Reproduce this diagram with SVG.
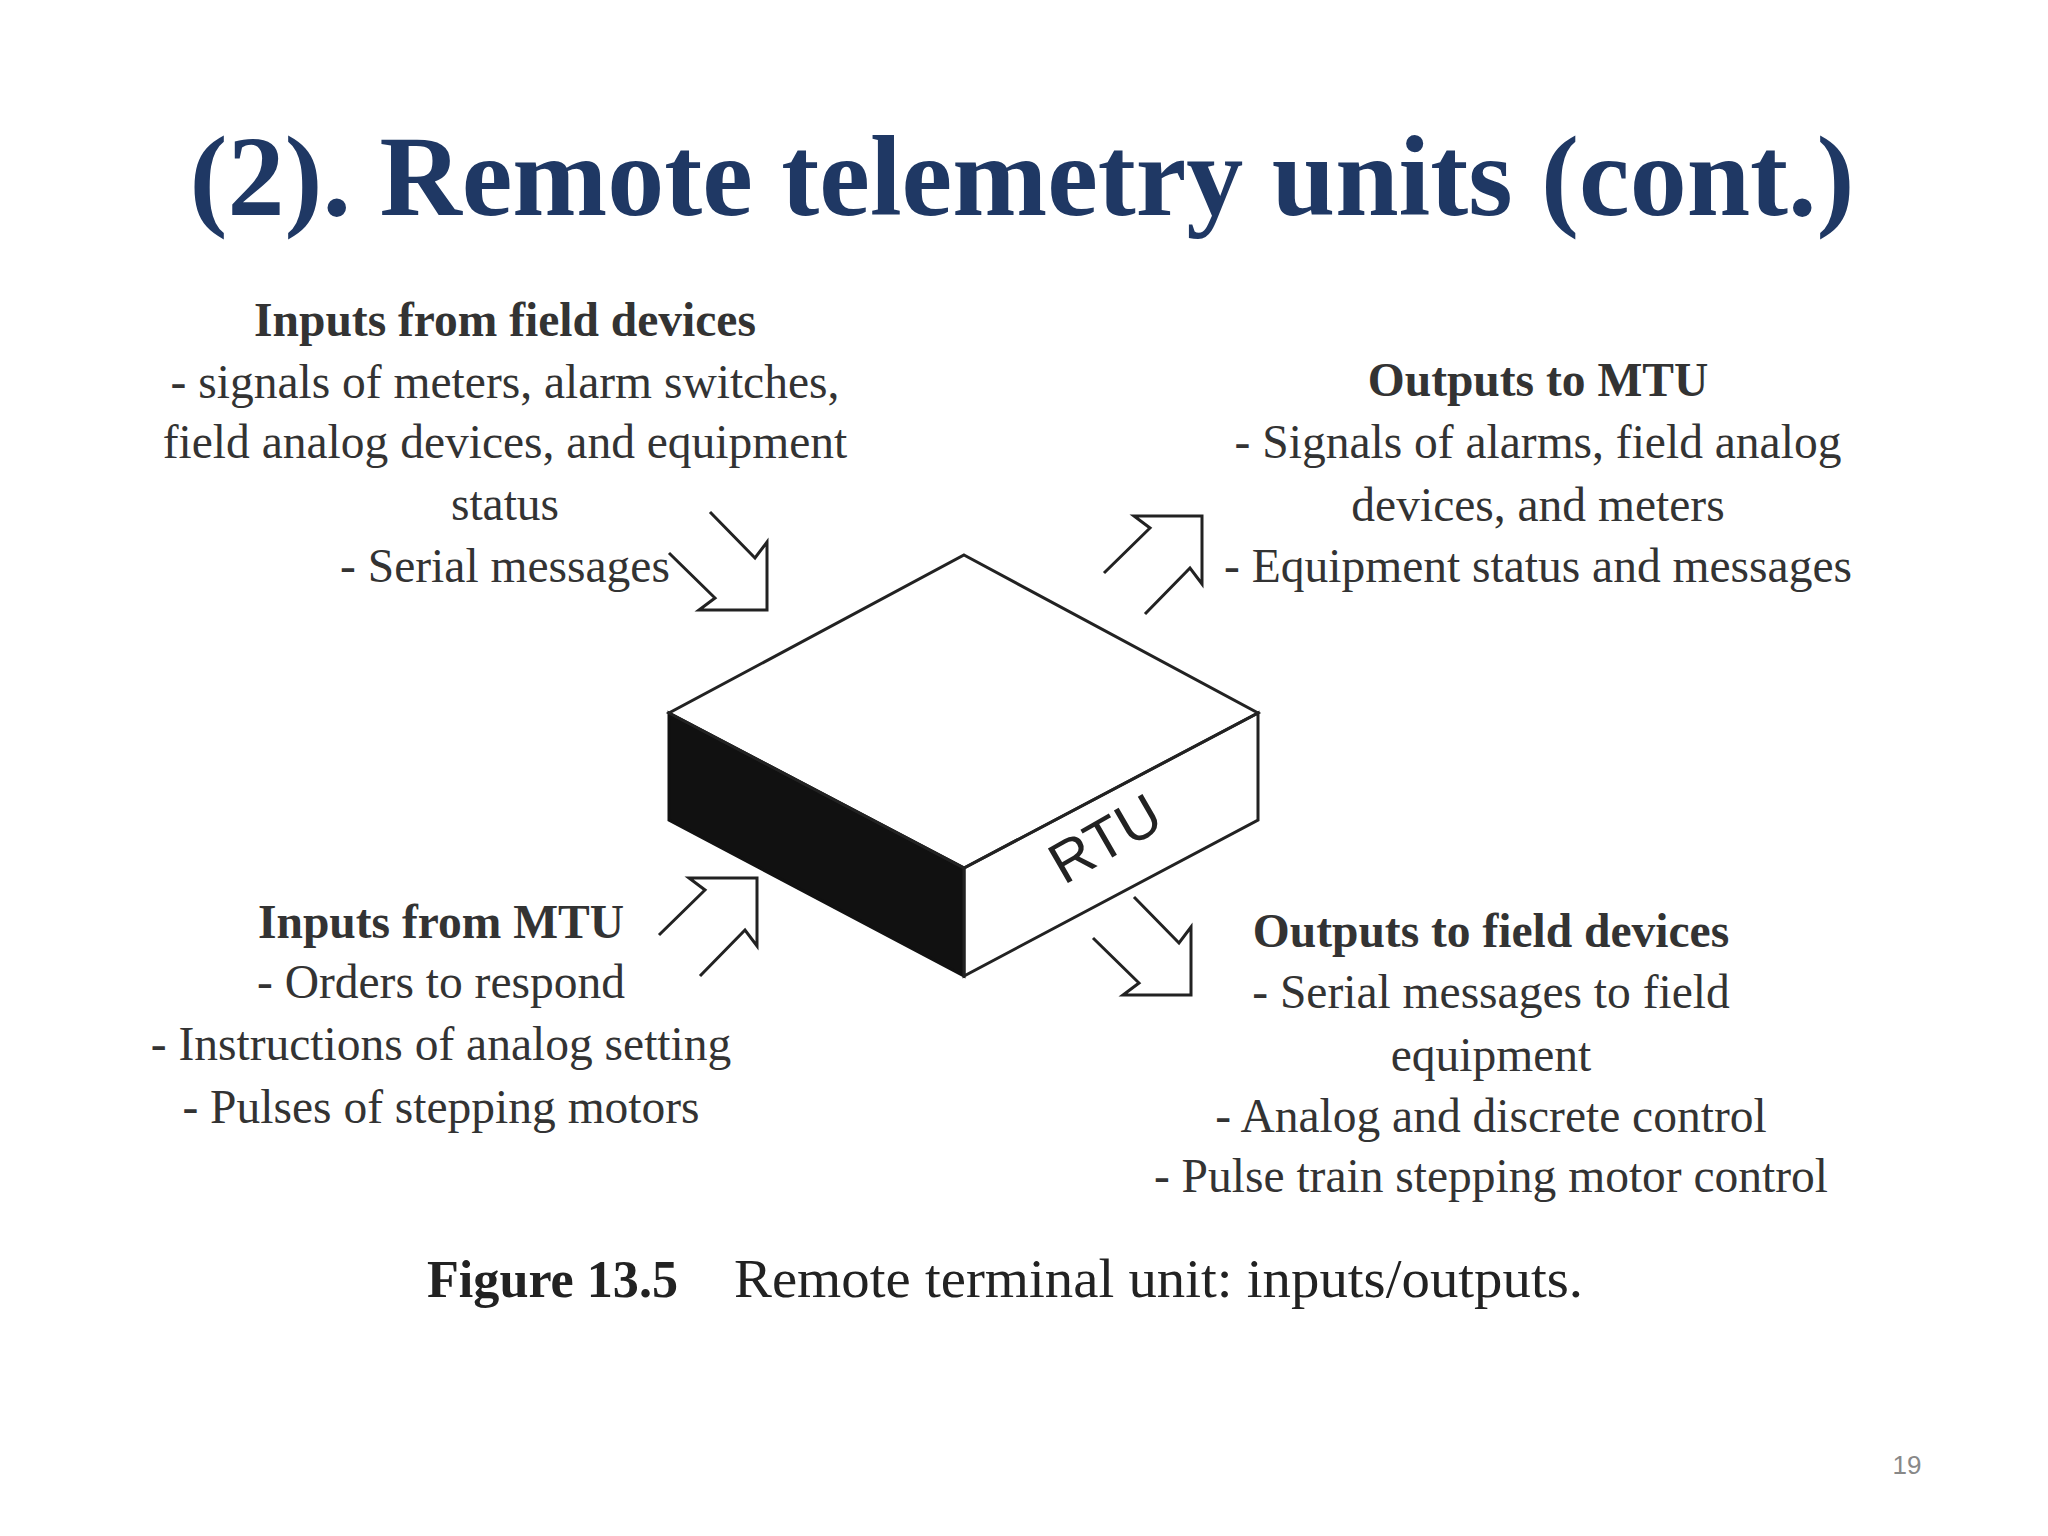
<svg xmlns="http://www.w3.org/2000/svg" width="2048" height="1536" viewBox="0 0 2048 1536">
<style>
.t{font-family:"Liberation Serif","Times New Roman",serif;font-size:47.5px;fill:#333;text-anchor:middle}
.b{font-weight:bold}
.ln{fill:none;stroke:#222;stroke-width:3;stroke-linejoin:miter}
</style>
<defs>
<path id="arr" class="ln" d="M -57 -98 L -12 -52 L 0 -68 L 0 0 L -68 0 L -52 -12 L -98 -57"/>
</defs>
<rect width="2048" height="1536" fill="#fff"/>
<text x="1022" y="215" font-family="Liberation Serif,serif" font-weight="bold" font-size="114" fill="#1f3864" text-anchor="middle">(2). Remote telemetry units (cont.)</text>
<g id="rtu">
<polygon points="669,713 964,868 964,976 669,820" fill="#111" stroke="#111" stroke-width="3"/>
<polygon points="964,868 1258,713 1258,820 964,976" class="ln" fill="#fff"/>
<polygon points="964,555 1258,713 964,868 669,713" class="ln" fill="#fff"/>
<text x="1107" y="858" transform="rotate(-30 1107 842)" font-family="Liberation Sans,Arial,sans-serif" font-size="58" fill="#222" text-anchor="middle">RTU</text>
</g>
<g id="connectors">
<use href="#arr" transform="translate(767,610)"/>
<use href="#arr" transform="translate(1202,516) rotate(-90)"/>
<use href="#arr" transform="translate(757,878) rotate(-90)"/>
<use href="#arr" transform="translate(1191,995)"/>
</g>
<g id="in-field">
<text class="t b" x="505" y="336">Inputs from field devices</text>
<text class="t" x="505" y="398">- signals of meters, alarm switches,</text>
<text class="t" x="505" y="458">field analog devices, and equipment</text>
<text class="t" x="505" y="520">status</text>
<text class="t" x="505" y="582">- Serial messages</text>
</g>
<g id="out-mtu">
<text class="t b" x="1538" y="396">Outputs to MTU</text>
<text class="t" x="1538" y="458">- Signals of alarms, field analog</text>
<text class="t" x="1538" y="521">devices, and meters</text>
<text class="t" x="1538" y="582">- Equipment status and messages</text>
</g>
<g id="in-mtu">
<text class="t b" x="441" y="938">Inputs from MTU</text>
<text class="t" x="441" y="998">- Orders to respond</text>
<text class="t" x="441" y="1060">- Instructions of analog setting</text>
<text class="t" x="441" y="1123">- Pulses of stepping motors</text>
</g>
<g id="out-field">
<text class="t b" x="1491" y="947">Outputs to field devices</text>
<text class="t" x="1491" y="1008">- Serial messages to field</text>
<text class="t" x="1491" y="1071">equipment</text>
<text class="t" x="1491" y="1132">- Analog and discrete control</text>
<text class="t" x="1491" y="1192">- Pulse train stepping motor control</text>
</g>
<text x="427" y="1297" font-family="Liberation Serif,serif" font-size="52" font-weight="bold" fill="#222" textLength="251" lengthAdjust="spacingAndGlyphs">Figure 13.5</text>
<text x="734" y="1297" font-family="Liberation Serif,serif" font-size="54" fill="#222" textLength="849" lengthAdjust="spacingAndGlyphs">Remote terminal unit: inputs/outputs.</text>
<text x="1907" y="1474" font-family="Liberation Sans,Arial,sans-serif" font-size="26" fill="#888" text-anchor="middle">19</text>
</svg>
